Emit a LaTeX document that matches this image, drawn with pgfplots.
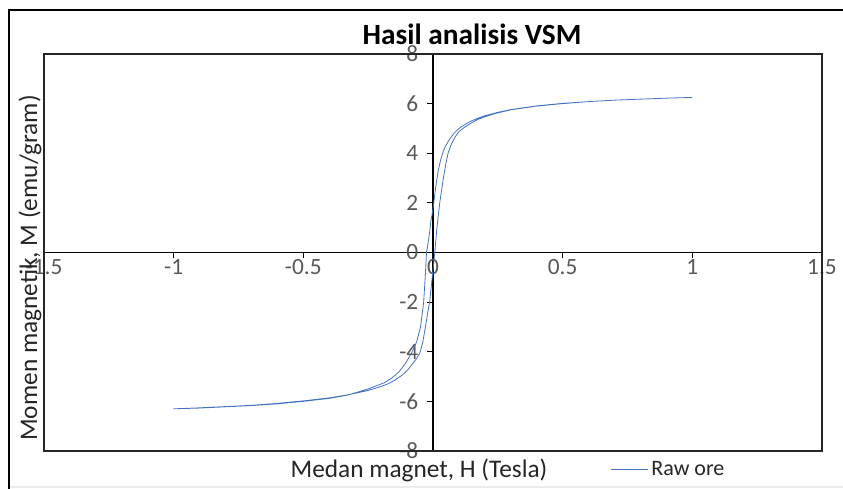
\documentclass[border=0pt]{standalone}
\usepackage{pgfplots}
\pgfplotsset{compat=1.18}
\usepackage{fontspec}
\setmainfont{Carlito}
\definecolor{excelblue}{HTML}{4472C4}
\definecolor{labelgray}{HTML}{595959}

\begin{document}
\begin{tikzpicture}
\useasboundingbox (0,0) rectangle (632.25pt,366.75pt);
\fill[white] (0,0) rectangle (632.25pt,366.75pt);
% outer frame
\draw[black!8, line width=0.8pt] (6.75pt,1.5pt) -- (632.25pt,1.5pt);
\draw[black, line width=1.6pt] (6.75pt,0pt) -- (6.75pt,359.25pt) -- (632.25pt,359.25pt);

\begin{axis}[
  at={(33pt,28.5pt)}, anchor=south west,
  scale only axis, width=583.5pt, height=297.75pt,
  xmin=-1.5, xmax=1.5, ymin=-8, ymax=8,
  axis lines=middle,
  axis line style={-, line width=0.9pt, black},
  xtick={-1.5,-1,-0.5,0,0.5,1,1.5},
  ytick={-8,-6,-4,-2,0,2,4,6,8},
  hide obscured x ticks=false, hide obscured y ticks=false,
  tick align=outside, major tick length=4.5pt,
  tick style={black, line width=0.9pt},
  /pgf/number format/assume math mode=true,
  tick label style={font=\fontsize{17.5}{19}\selectfont, text=labelgray},
  xticklabel style={anchor=north, inner sep=0.5pt},
  yticklabel style={anchor=east, xshift=-3pt},
  clip=false,
  legend style={at={(axis description cs:0.728,-0.047)}, anchor=west,
    draw=none, fill=none, font=\fontsize{16.5}{18}\selectfont, inner sep=0pt,
    text=black!85},
  legend image code/.code={\draw[#1] (0pt,0pt) -- (28pt,0pt);},
]
\draw[black!85, line width=1.2pt] (rel axis cs:0,0) rectangle (rel axis cs:1,1);
\addplot[excelblue, line width=0.6pt, line join=round] coordinates {
(1.0,6.25) (0.9,6.22) (0.8,6.18) (0.7,6.14) (0.6,6.08) (0.5,6.01) (0.4,5.91)
(0.3,5.76) (0.25,5.65) (0.2,5.51) (0.17,5.40) (0.15,5.31) (0.13,5.20)
(0.11,5.07) (0.095,4.95) (0.08,4.79) (0.065,4.58) (0.05,4.32) (0.04,4.1)
(0.03,3.75) (0.02,3.3) (0.01,2.6) (0.003,2.0)
(-0.004,1.5) (-0.008,1.3) (-0.012,0.9) (-0.018,0.45) (-0.025,0.0)
(-0.03,-1.0) (-0.036,-2.0) (-0.048,-3.0) (-0.063,-3.6) (-0.083,-4.05)
(-0.105,-4.45) (-0.13,-4.8) (-0.16,-5.07) (-0.19,-5.26) (-0.25,-5.5) (-0.33,-5.75)
(-0.4,-5.88) (-0.5,-6.0) (-0.6,-6.1) (-0.7,-6.17) (-0.8,-6.22) (-0.9,-6.27)
(-1.0,-6.3)
(-0.9,-6.26) (-0.8,-6.21) (-0.7,-6.16) (-0.6,-6.08) (-0.5,-5.98) (-0.4,-5.86)
(-0.32,-5.72) (-0.25,-5.56) (-0.2,-5.4) (-0.17,-5.28) (-0.145,-5.13) (-0.12,-4.95)
(-0.1,-4.76) (-0.08,-4.5) (-0.065,-4.3) (-0.051,-4.06) (-0.04,-3.65) (-0.03,-3.05)
(-0.02,-2.4) (-0.013,-2.0) (-0.003,-1.0) (0.007,0.0) (0.015,1.0)
(0.026,2.0) (0.04,3.0) (0.05,3.6) (0.058,4.0) (0.07,4.35) (0.085,4.65) (0.1,4.87)
(0.122,5.05) (0.145,5.2) (0.17,5.35) (0.2,5.47) (0.24,5.6) (0.3,5.75) (0.4,5.9)
(0.5,6.0) (0.6,6.08) (0.7,6.14) (0.8,6.18) (0.9,6.22) (1.0,6.25)
};
\addlegendentry{Raw ore}
\end{axis}

\node[font=\bfseries\fontsize{22}{24}\selectfont] at (354pt,341.25pt) {Hasil analisis VSM};
\node[font=\fontsize{19}{21}\selectfont, text=black!85] at (314.25pt,14.25pt) {Medan magnet, H (Tesla)};
\node[font=\fontsize{19}{21}\selectfont, text=black!85, rotate=90] at (22.5pt,165.75pt) {Momen magnetik, M (emu/gram)};
\end{tikzpicture}
\end{document}
